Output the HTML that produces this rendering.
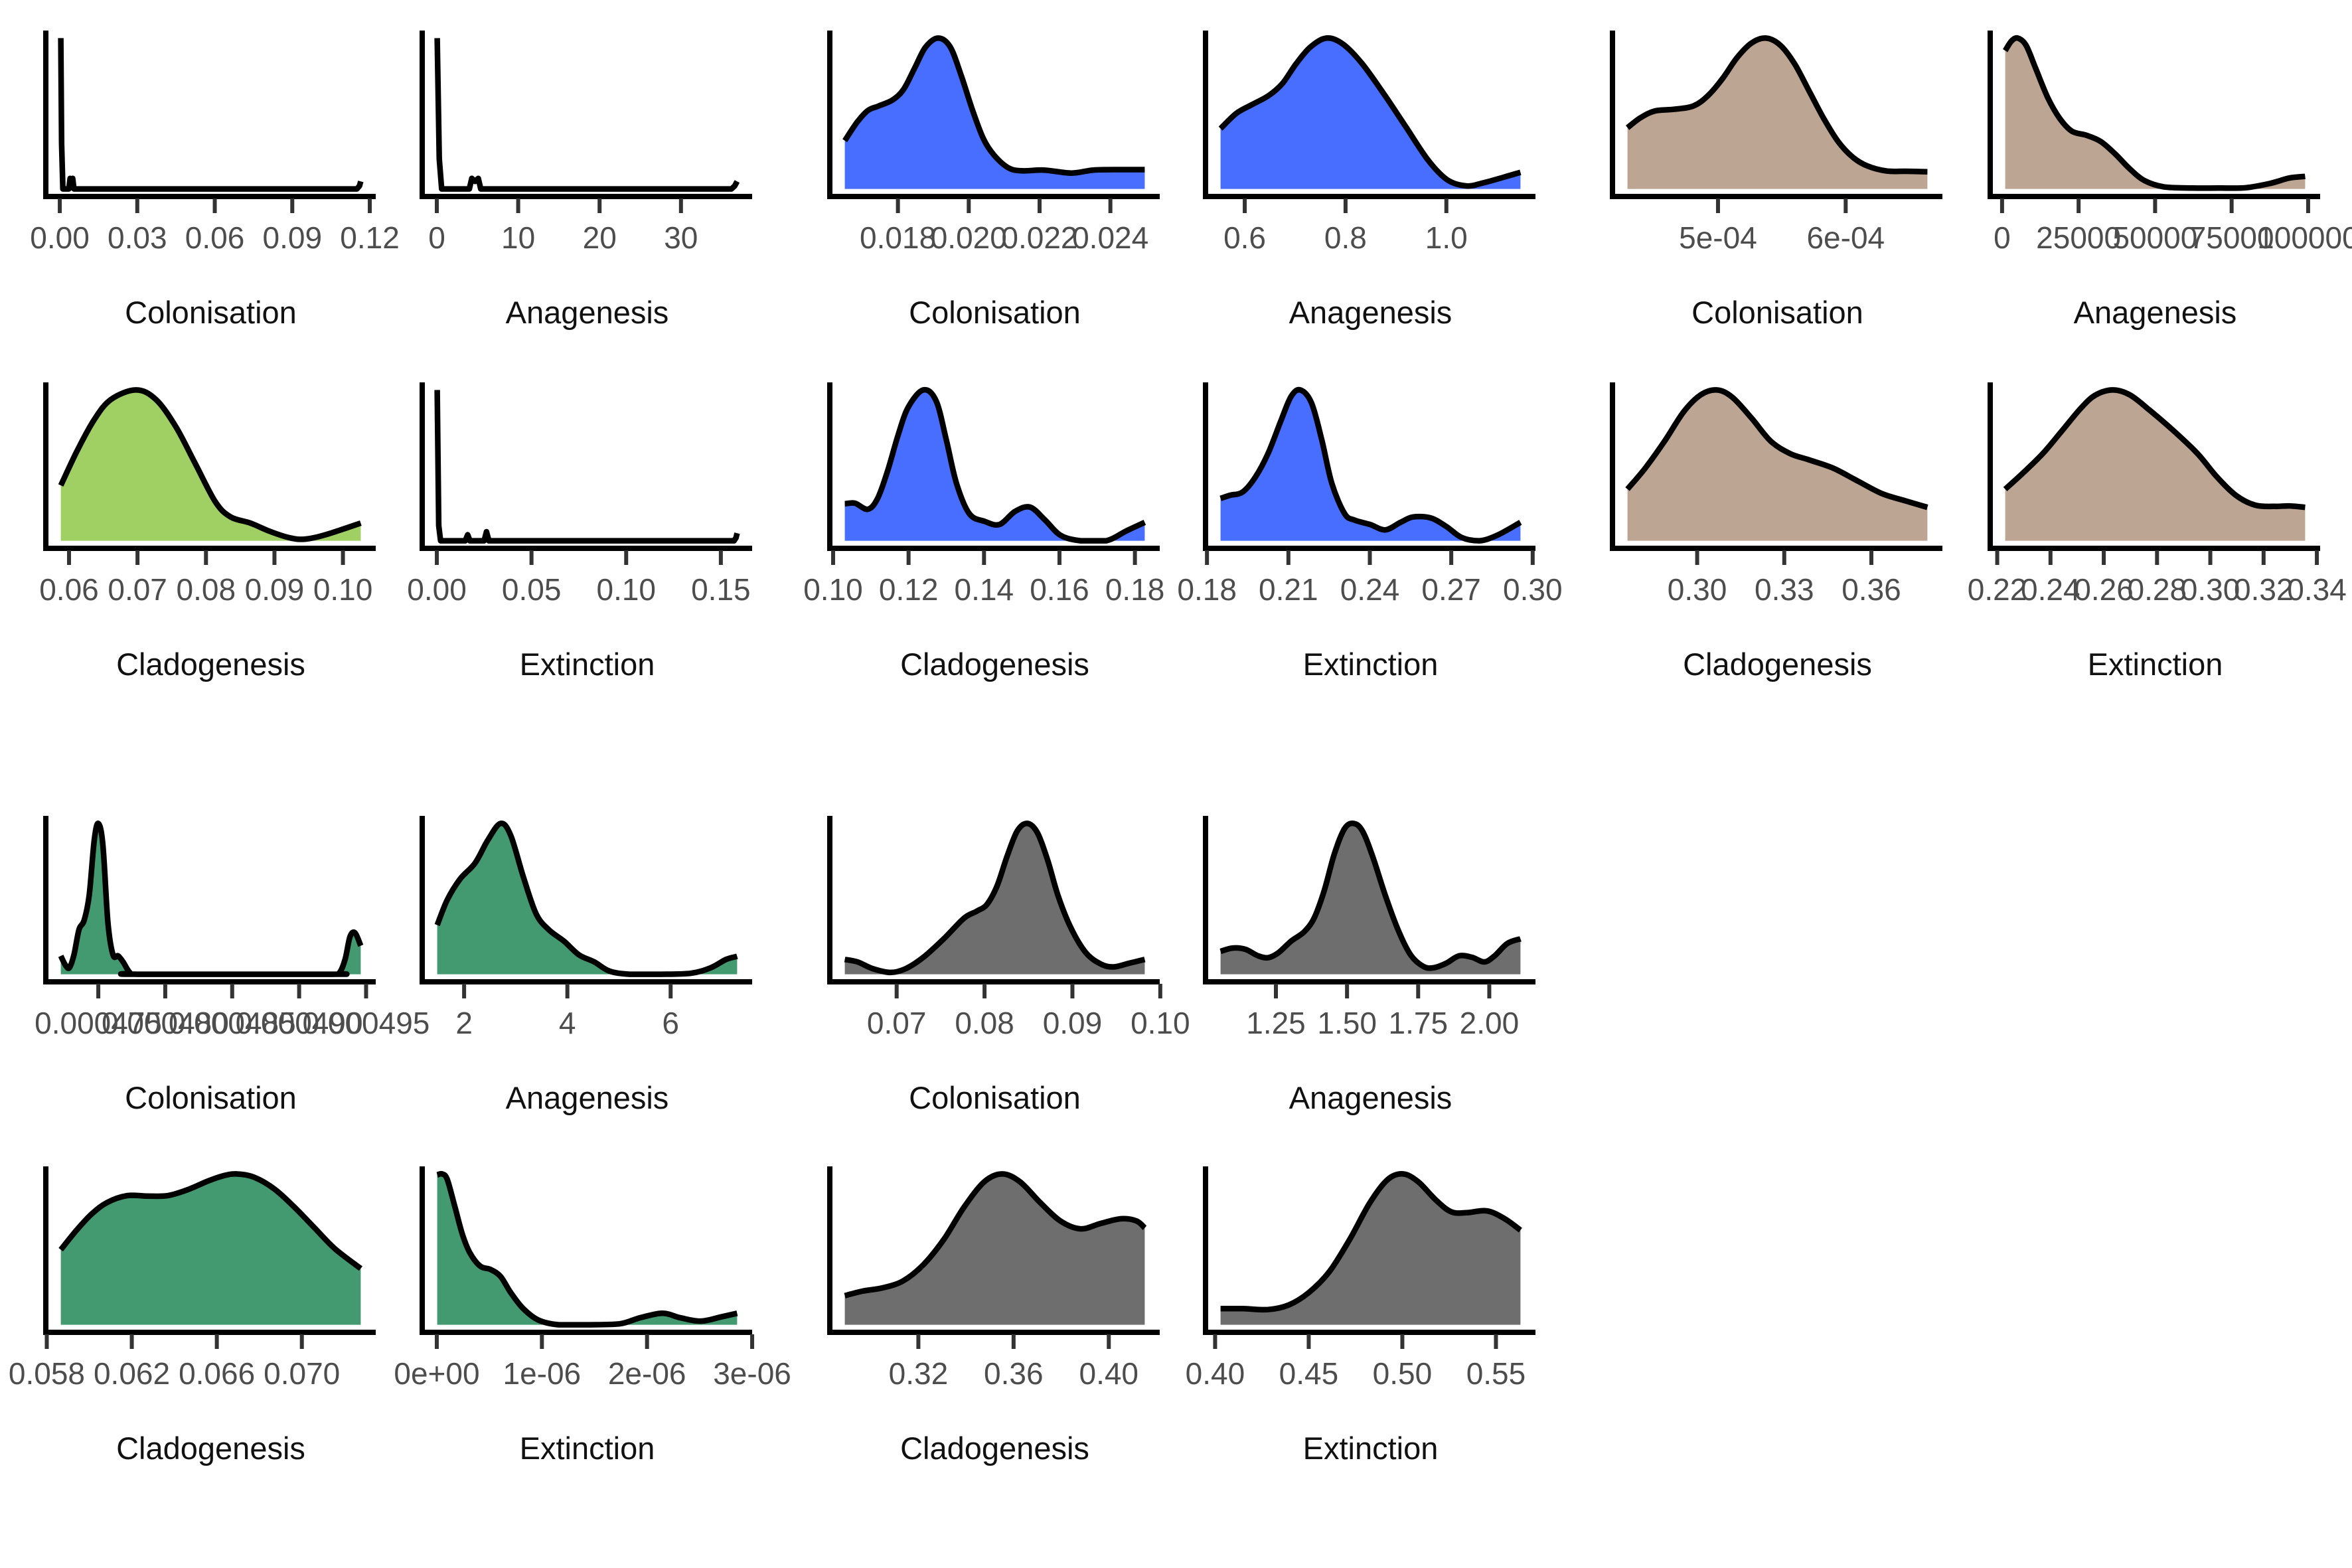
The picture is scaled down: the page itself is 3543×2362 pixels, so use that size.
<!DOCTYPE html>
<html><head><meta charset="utf-8"><style>
html,body{margin:0;padding:0;background:#fff;}
svg{display:block;}
.tick-label{font-family:"Liberation Sans",Arial,sans-serif;font-size:46px;fill:#4d4d4d;text-anchor:middle;}
.axis-title{font-family:"Liberation Sans",Arial,sans-serif;font-size:47px;fill:#111;text-anchor:middle;}
</style></head><body>
<svg id="chart" width="3543" height="2362" viewBox="0 0 3543 2362" xmlns="http://www.w3.org/2000/svg"></svg>
<script>
// ---- data arrays (one set per panel) ----
const p1Ticks=[0,0.03,0.06,0.09,0.12];const p1Labels=["0.00","0.03","0.06","0.09","0.12"];
const p1X=[0.0004,0.0007,0.0012,0.0035,0.0040,0.0045,0.0050,0.0055,0.1150,0.1160,0.1165];
const p1Y=[1,0.3,0,0,0.07,0.06,0.07,0,0,0.02,0.05];
const p2Ticks=[0,10,20,30];const p2Labels=["0","10","20","30"];
const p2X=[0.05,0.3,0.6,4.0,4.3,4.7,5.1,5.4,36.2,36.6,36.9];
const p2Y=[1,0.2,0,0,0.07,0.05,0.07,0,0,0.02,0.05];
const p3Ticks=[0.018,0.020,0.022,0.024];const p3Labels=["0.018","0.020","0.022","0.024"];
const p3X=[0.01650,0.01684,0.01715,0.01746,0.01785,0.01816,0.01847,0.01878,0.01914,0.01948,0.01979,0.02011,0.02042,0.02073,0.02112,0.02150,0.02213,0.02290,0.02352,0.02430,0.02497];
const p3Y=[.32,.44,.52,.55,.59,.66,.80,.94,1,.94,.75,.52,.33,.22,.14,.12,.125,.105,.125,.128,.128];
const p4Ticks=[0.6,0.8,1.0];const p4Labels=["0.6","0.8","1.0"];
const p4X=[.552,.583,.615,.648,.675,.702,.730,.762,.795,.833,.877,.920,.964,1.002,1.040,1.073,1.116,1.147];
const p4Y=[.40,.50,.56,.62,.70,.83,.94,1,.96,.83,.625,.41,.19,.06,.02,.04,.08,.11];
const p5Ticks=[0.06,0.07,0.08,0.09,0.10];const p5Labels=["0.06","0.07","0.08","0.09","0.10"];
const p5X=[.0588,.0611,.0636,.0661,.0698,.0727,.0756,.0785,.0814,.0836,.0865,.0894,.0923,.0945,.0974,.1026];
const p5Y=[.367,.589,.797,.936,1,.936,.756,.506,.256,.158,.117,.061,.019,.011,.039,.117];
const p6Ticks=[0,0.05,0.10,0.15];const p6Labels=["0.00","0.05","0.10","0.15"];
const p6X=[0.0002,0.001,0.002,0.015,0.0163,0.0175,0.025,0.0262,0.0275,0.157,0.158,0.1586];
const p6Y=[1,0.1,0,0,0.04,0,0,0.06,0,0,0.02,0.05];
const p7Ticks=[0.10,0.12,0.14,0.16,0.18];const p7Labels=["0.10","0.12","0.14","0.16","0.18"];
const p7X=[.1031,.1058,.1092,.1118,.1145,.1172,.1199,.1239,.1273,.1300,.1327,.1361,.1401,.1441,.1482,.1522,.1562,.1603,.1656,.1724,.1777,.1826];
const p7Y=[.245,.249,.209,.281,.468,.698,.885,1,.928,.669,.381,.180,.129,.108,.194,.223,.137,.036,0,0,.065,.122];
const p8Ticks=[0.18,0.21,0.24,0.27,0.30];const p8Labels=["0.18","0.21","0.24","0.27","0.30"];
const p8X=[.1850,.1886,.1932,.1979,.2026,.2073,.2110,.2144,.2185,.2223,.2260,.2307,.2344,.2401,.2457,.2513,.2560,.2625,.2682,.2738,.2803,.2869,.2955];
const p8Y=[.281,.302,.324,.424,.583,.799,.957,1,.914,.669,.381,.180,.137,.108,.072,.122,.158,.151,.094,.022,0,.036,.122];
const p9Ticks=[5,6];const p9Labels=["5e-04","6e-04"];
const p9X=[4.291,4.393,4.506,4.657,4.808,4.922,5.035,5.148,5.262,5.375,5.488,5.601,5.715,5.828,5.941,6.055,6.168,6.319,6.470,6.640];
const p9Y=[.406,.472,.517,.528,.550,.619,.731,.869,.967,1,.953,.828,.647,.467,.314,.211,.153,.119,.117,.114];
const p10Ticks=[0,25000,50000,75000,100000];const p10Labels=["0","25000","50000","75000","100000"];
const p10X=[1024,3075,5127,7810,10966,14911,18856,22801,27535,32269,37003,41737,46471,52783,62251,71719,79609,87499,93811,99019];
const p10Y=[.917,.981,1,.953,.8,.606,.467,.383,.356,.314,.231,.133,.056,.014,.006,.006,.008,.036,.072,.083];
const p11Ticks=[0.30,0.33,0.36];const p11Labels=["0.30","0.33","0.36"];
const p11X=[.2760,.2821,.2888,.2954,.3012,.3067,.3120,.3187,.3253,.3320,.3386,.3469,.3552,.3635,.3718,.3793];
const p11Y=[.342,.481,.661,.856,.967,1,.953,.814,.661,.578,.536,.481,.397,.314,.264,.222];
const p12Ticks=[0.22,0.24,0.26,0.28,0.30,0.32,0.34];const p12Labels=["0.22","0.24","0.26","0.28","0.30","0.32","0.34"];
const p12X=[.2230,.2299,.2371,.2444,.2516,.2570,.2634,.2698,.2770,.2861,.2952,.3024,.3097,.3169,.3242,.3296,.3356];
const p12Y=[.342,.453,.578,.731,.883,.967,1,.967,.869,.731,.578,.425,.3,.236,.228,.231,.222];
const p13Ticks=[475,480,485,490,495];const p13Labels=["0.000475","0.000480","0.000485","0.000490","0.000495"];
const p13X=[472.20,472.54,472.84,473.18,473.56,473.94,474.32,474.70,475.00,475.34,475.72,476.10,476.48,476.85,477.35,477.91,492.29,492.97,493.43,493.80,494.18,494.60];
const p13Y=[.122,.061,.043,.128,.296,.357,.524,.890,1,.860,.341,.128,.122,.082,.012,0,0,.006,.098,.250,.274,.189];
const p14Ticks=[2,4,6];const p14Labels=["2","4","6"];
const p14X=[1.479,1.675,1.921,2.215,2.460,2.706,2.902,3.147,3.393,3.638,3.932,4.227,4.521,4.815,5.208,5.797,6.385,6.778,7.072,7.288];
const p14Y=[.326,.494,.631,.738,.890,1,.921,.646,.402,.296,.220,.128,.082,.021,0,0,.006,.043,.098,.119];
const p15Ticks=[0.058,0.062,0.066,0.070];const p15Labels=["0.058","0.062","0.066","0.070"];
const p15X=[.05866,.05940,.06011,.06083,.06178,.06274,.06369,.06464,.06560,.06631,.06691,.06774,.06869,.06965,.07060,.07155,.07277];
const p15Y=[.498,.627,.734,.810,.856,.853,.856,.896,.954,.988,1,.979,.902,.780,.642,.505,.373];
const p16Ticks=[0,1,2,3];const p16Labels=["0e+00","1e-06","2e-06","3e-06"];
const p16X=[.004,.052,.100,.173,.245,.317,.414,.510,.606,.703,.823,.968,1.161,1.450,1.739,1.932,2.149,2.318,2.510,2.703,2.857];
const p16Y=[.994,1,.963,.780,.596,.474,.388,.367,.321,.214,.107,.031,0,0,.006,.046,.076,.046,.024,.052,.076];
const p17Ticks=[0.07,0.08,0.09,0.10];const p17Labels=["0.07","0.08","0.09","0.10"];
const p17X=[.06410,.06554,.06728,.06930,.07103,.07305,.07536,.07767,.07911,.08027,.08142,.08258,.08373,.08489,.08604,.08720,.08835,.08980,.09153,.09326,.09471,.09644,.09823];
const p17Y=[.098,.082,.037,.012,.037,.113,.235,.372,.418,.463,.585,.784,.951,1,.936,.753,.524,.311,.143,.067,.049,.073,.098];
const p18Ticks=[1.25,1.50,1.75,2.00];const p18Labels=["1.25","1.50","1.75","2.00"];
const p18X=[1.0554,1.0983,1.1430,1.1876,1.2234,1.2591,1.3038,1.3484,1.3842,1.4199,1.4556,1.4914,1.5235,1.5539,1.5896,1.6343,1.6790,1.7237,1.7683,1.8040,1.8487,1.8934,1.9381,1.9827,2.0185,2.0631,2.1096];
const p18Y=[.152,.174,.165,.122,.110,.143,.220,.280,.372,.555,.799,.966,1,.951,.784,.524,.296,.128,.052,.043,.073,.122,.113,.082,.122,.204,.235];
const p19Ticks=[0.32,0.36,0.40];const p19Labels=["0.32","0.36","0.40"];
const p19X=[.2891,.2966,.3051,.3136,.3221,.3307,.3392,.3477,.3552,.3627,.3712,.3797,.3882,.3968,.4053,.4117,.4151];
const p19Y=[.193,.223,.245,.291,.398,.566,.780,.948,1,.948,.810,.688,.636,.673,.703,.688,.642];
const p20Ticks=[0.40,0.45,0.50,0.55];const p20Labels=["0.40","0.45","0.50","0.55"];
const p20X=[.4029,.4148,.4284,.4393,.4501,.4610,.4719,.4827,.4922,.5004,.5085,.5180,.5261,.5343,.5452,.5547,.5631];
const p20Y=[.107,.107,.101,.131,.214,.352,.566,.810,.963,1,.948,.826,.749,.743,.755,.703,.627];

// ---- layout ----
const NS="http://www.w3.org/2000/svg";
const svg=document.getElementById('chart');
const COLS=[69,636,1250,1816,2429,2998];
const ROWS=[46,576,1229,1757];
const W=497,H=250,PADX=22.6,PADY=11.4;
const GREEN1="#a0d063",BLUE="#486eff",TAN="#bda594",GREEN2="#449a70",GRAY="#6e6e6e";
const panels=[
 {c:0,r:0,x:p1X,y:p1Y,t:p1Ticks,l:p1Labels,title:"Colonisation",fill:null,smooth:false,name:"colonisation-1"},
 {c:1,r:0,x:p2X,y:p2Y,t:p2Ticks,l:p2Labels,title:"Anagenesis",fill:null,smooth:false,name:"anagenesis-1"},
 {c:0,r:1,x:p5X,y:p5Y,t:p5Ticks,l:p5Labels,title:"Cladogenesis",fill:GREEN1,smooth:true,name:"cladogenesis-1"},
 {c:1,r:1,x:p6X,y:p6Y,t:p6Ticks,l:p6Labels,title:"Extinction",fill:null,smooth:false,name:"extinction-1"},
 {c:2,r:0,x:p3X,y:p3Y,t:p3Ticks,l:p3Labels,title:"Colonisation",fill:BLUE,smooth:true,name:"colonisation-2"},
 {c:3,r:0,x:p4X,y:p4Y,t:p4Ticks,l:p4Labels,title:"Anagenesis",fill:BLUE,smooth:true,name:"anagenesis-2"},
 {c:2,r:1,x:p7X,y:p7Y,t:p7Ticks,l:p7Labels,title:"Cladogenesis",fill:BLUE,smooth:true,name:"cladogenesis-2"},
 {c:3,r:1,x:p8X,y:p8Y,t:p8Ticks,l:p8Labels,title:"Extinction",fill:BLUE,smooth:true,name:"extinction-2"},
 {c:4,r:0,x:p9X,y:p9Y,t:p9Ticks,l:p9Labels,title:"Colonisation",fill:TAN,smooth:true,name:"colonisation-3"},
 {c:5,r:0,x:p10X,y:p10Y,t:p10Ticks,l:p10Labels,title:"Anagenesis",fill:TAN,smooth:true,name:"anagenesis-3"},
 {c:4,r:1,x:p11X,y:p11Y,t:p11Ticks,l:p11Labels,title:"Cladogenesis",fill:TAN,smooth:true,name:"cladogenesis-3"},
 {c:5,r:1,x:p12X,y:p12Y,t:p12Ticks,l:p12Labels,title:"Extinction",fill:TAN,smooth:true,name:"extinction-3"},
 {c:0,r:2,x:p13X,y:p13Y,t:p13Ticks,l:p13Labels,title:"Colonisation",fill:GREEN2,smooth:true,name:"colonisation-4"},
 {c:1,r:2,x:p14X,y:p14Y,t:p14Ticks,l:p14Labels,title:"Anagenesis",fill:GREEN2,smooth:true,name:"anagenesis-4"},
 {c:0,r:3,x:p15X,y:p15Y,t:p15Ticks,l:p15Labels,title:"Cladogenesis",fill:GREEN2,smooth:true,name:"cladogenesis-4"},
 {c:1,r:3,x:p16X,y:p16Y,t:p16Ticks,l:p16Labels,title:"Extinction",fill:GREEN2,smooth:true,name:"extinction-4"},
 {c:2,r:2,x:p17X,y:p17Y,t:p17Ticks,l:p17Labels,title:"Colonisation",fill:GRAY,smooth:true,name:"colonisation-5"},
 {c:3,r:2,x:p18X,y:p18Y,t:p18Ticks,l:p18Labels,title:"Anagenesis",fill:GRAY,smooth:true,name:"anagenesis-5"},
 {c:2,r:3,x:p19X,y:p19Y,t:p19Ticks,l:p19Labels,title:"Cladogenesis",fill:GRAY,smooth:true,name:"cladogenesis-5"},
 {c:3,r:3,x:p20X,y:p20Y,t:p20Ticks,l:p20Labels,title:"Extinction",fill:GRAY,smooth:true,name:"extinction-5"}
];
function mk(tag,attrs){const e=document.createElementNS(NS,tag);for(const k in attrs)e.setAttribute(k,attrs[k]);return e;}
function smoothPath(pts,base){
  const cl=v=>Math.min(v,base);
  let d="M"+pts[0][0].toFixed(1)+","+pts[0][1].toFixed(1);
  for(let i=0;i<pts.length-1;i++){
    const p0=pts[i-1]||pts[i],p1=pts[i],p2=pts[i+1],p3=pts[i+2]||p2;
    const c1=[p1[0]+(p2[0]-p0[0])/6,cl(p1[1]+(p2[1]-p0[1])/6)];
    const c2=[p2[0]-(p3[0]-p1[0])/6,cl(p2[1]-(p3[1]-p1[1])/6)];
    d+=" C"+c1[0].toFixed(1)+","+c1[1].toFixed(1)+" "+c2[0].toFixed(1)+","+c2[1].toFixed(1)+" "+p2[0].toFixed(1)+","+p2[1].toFixed(1);
  }
  return d;
}
function linePath(pts){return "M"+pts.map(p=>p[0].toFixed(1)+","+p[1].toFixed(1)).join(" L");}
panels.forEach(p=>{
  const L=COLS[p.c],T=ROWS[p.r];
  const g=mk('g',{});
  
  
  svg.appendChild(g);
  const xlo=p.x[0],xhi=p.x[p.x.length-1];
  const ymax=Math.max(...p.y);
  const sx=v=>L+PADX+(v-xlo)/(xhi-xlo)*(W-2*PADX);
  const sy=v=>T+H-PADY-(v/ymax)*(H-2*PADY);
  const pts=p.x.map((v,i)=>[sx(v),sy(p.y[i])]);
  const curve=p.smooth?smoothPath(pts,sy(0)):linePath(pts);
  if(p.fill){
    const area=mk('path',{d:curve+" L"+sx(xhi).toFixed(1)+","+sy(0).toFixed(1)+" L"+sx(xlo).toFixed(1)+","+sy(0).toFixed(1)+" Z",fill:p.fill,stroke:"none"});
    
    
    g.appendChild(area);
  }
  const line=mk('path',{d:curve,fill:"none",stroke:"#000","stroke-width":8.5,"stroke-linejoin":"round"});
  
  
  g.appendChild(line);
  const ya=mk('line',{x1:L,y1:T,x2:L,y2:T+H+4,stroke:"#000","stroke-width":8});
  
  
  g.appendChild(ya);
  const xa=mk('line',{x1:L-4,y1:T+H,x2:L+W,y2:T+H,stroke:"#000","stroke-width":8});
  
  
  g.appendChild(xa);
  p.t.forEach((tv,i)=>{
    const x=sx(tv);
    const tk=mk('line',{x1:x,y1:T+H+3,x2:x,y2:T+H+25,stroke:"#333","stroke-width":6});
    
    
    g.appendChild(tk);
    const tl=mk('text',{x:x,y:T+H+78,class:"tick-label"});
    tl.textContent=p.l[i];
    
    
    g.appendChild(tl);
  });
  const ti=mk('text',{x:L+W/2,y:T+H+191,class:"axis-title"});
  ti.textContent=p.title;
  
  
  g.appendChild(ti);
});
</script>
</body></html>
